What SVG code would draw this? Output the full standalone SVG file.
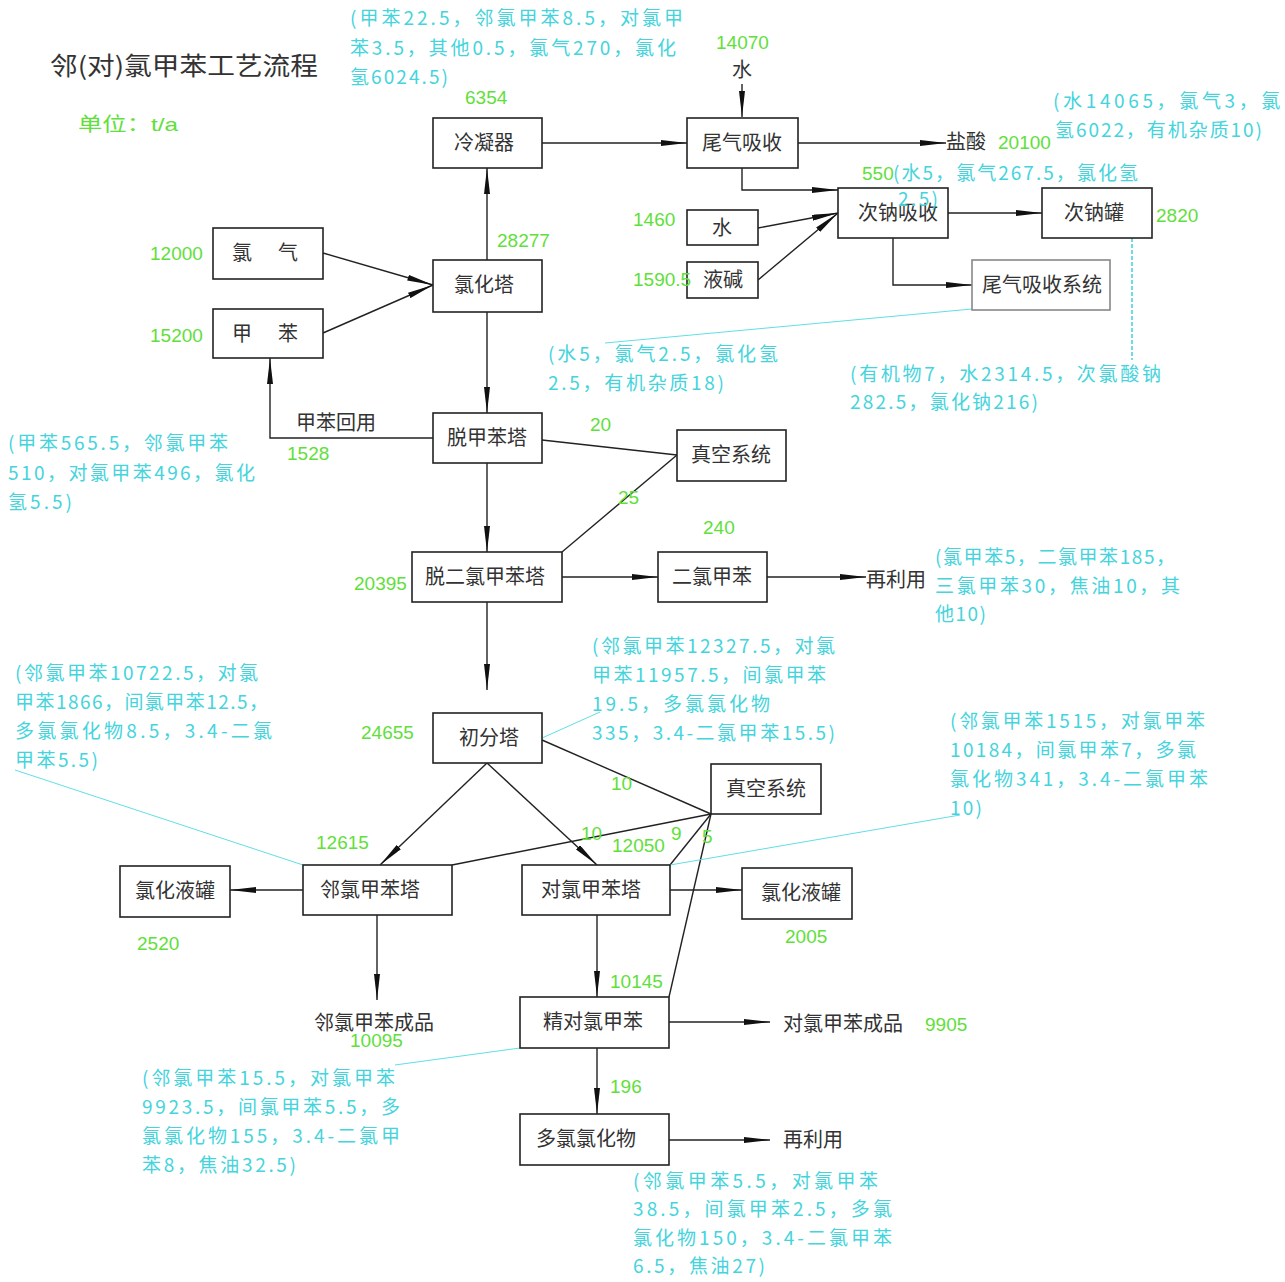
<svg xmlns="http://www.w3.org/2000/svg" width="1285" height="1282" viewBox="0 0 1285 1282">
<style>
.box{fill:#fff;stroke:#222;stroke-width:1.6}
.gbox{fill:#fff;stroke:#888;stroke-width:1.6}
.nt{font-family:"Noto Sans CJK SC","Liberation Sans",sans-serif;font-size:20px;fill:#333;text-anchor:middle}
.lt{font-family:"Noto Sans CJK SC","Liberation Sans",sans-serif;font-size:20px;fill:#333}
.g{font-family:"Liberation Sans","Noto Sans CJK SC",sans-serif;font-size:19px;fill:#5fe03a}
.c{font-family:"Noto Sans CJK SC","Liberation Sans",sans-serif;font-size:19px;fill:#45d4dc}
.ln{fill:none;stroke:#222;stroke-width:1.4}
.ar{fill:none;stroke:#222;stroke-width:1.4;marker-end:url(#ah)}
.cl{fill:none;stroke:#5fdfe6;stroke-width:1}
.cd{fill:none;stroke:#33ccdd;stroke-width:1.4;stroke-dasharray:4 2}
</style>
<defs>
<marker id="ah" viewBox="0 0 26 6" refX="26" refY="3" markerWidth="26" markerHeight="6" markerUnits="userSpaceOnUse" orient="auto">
<path d="M0,0 L26,3 L0,6 z" fill="#111"/>
</marker>
</defs>
<rect width="1285" height="1282" fill="#fff"/>

<text x="50" y="75" font-family="Noto Sans CJK SC,sans-serif" font-size="25" fill="#333" textLength="268" lengthAdjust="spacingAndGlyphs">邻(对)氯甲苯工艺流程</text>
<text class="g" x="78" y="131" font-family="Noto Sans CJK SC,sans-serif" font-size="18" textLength="100" lengthAdjust="spacingAndGlyphs">单位：t/a</text>

<g id="connectors">
<path class="ar" d="M542,143 H687"/>
<path class="ar" d="M742,84 V117"/>
<path class="ar" d="M798,143 H946"/>
<path class="ar" d="M742,168 V190 H838"/>
<path class="ar" d="M758,228 L838,213"/>
<path class="ar" d="M758,280 L838,213"/>
<path class="ar" d="M948,213 H1042"/>
<path class="ar" d="M893,238 V285 H972"/>
<path class="cd" d="M1132,238 V360"/>
<path class="cl" d="M972,309 L605,343"/>
<path class="ar" d="M487,260 V168"/>
<path class="ar" d="M323,253 L433,285"/>
<path class="ar" d="M323,333 L433,285"/>
<path class="ar" d="M487,312 V413"/>
<path class="ar" d="M433,438 H270 V358"/>
<path class="ln" d="M542,440 L677,455"/>
<path class="ln" d="M562,552 L677,455"/>
<path class="ar" d="M487,463 V552"/>
<path class="ar" d="M562,577 H658"/>
<path class="ar" d="M767,577 H866"/>
<path class="ar" d="M487,602 V690"/>
<path class="cl" d="M542,738 L600,712"/>
<path class="ln" d="M542,740 L711,814"/>
<path class="ar" d="M487,763 L380,865"/>
<path class="ar" d="M487,763 L597,865"/>
<path class="ln" d="M452,865 L711,814"/>
<path class="ln" d="M670,865 L711,814"/>
<path class="ln" d="M669,997 L711,814"/>
<path class="cl" d="M303,865 L15,770"/>
<path class="cl" d="M670,865 L960,815"/>
<path class="ar" d="M303,890 H230"/>
<path class="ar" d="M670,890 H742"/>
<path class="ar" d="M377,915 V1000"/>
<path class="ar" d="M597,915 V997"/>
<path class="ar" d="M669,1022 H770"/>
<path class="cl" d="M520,1048 L395,1065"/>
<path class="ar" d="M597,1048 V1114"/>
<path class="ar" d="M669,1140 H770"/>
</g>

<g id="n-lengningqi"><rect class="box" x="433" y="118" width="109" height="50"/><text class="nt" x="484" y="150">冷凝器</text></g>
<g id="n-weiqixishou"><rect class="box" x="687" y="118" width="111" height="50"/><text class="nt" x="742" y="150">尾气吸收</text></g>
<g id="n-lvhuata"><rect class="box" x="433" y="260" width="109" height="52"/><text class="nt" x="484" y="292">氯化塔</text></g>
<g id="n-lvqi"><rect class="box" x="213" y="228" width="110" height="51"/><text class="lt" x="232" y="260" textLength="66" lengthAdjust="spacing">氯 气</text></g>
<g id="n-jiaben"><rect class="box" x="213" y="309" width="110" height="49"/><text class="lt" x="232" y="341" textLength="66" lengthAdjust="spacing">甲 苯</text></g>
<g id="n-shui"><rect class="box" x="687" y="210" width="71" height="35"/><text class="nt" x="722" y="235">水</text></g>
<g id="n-yejian"><rect class="box" x="687" y="262" width="71" height="36"/><text class="nt" x="723" y="287">液碱</text></g>
<g id="n-cinaxishou"><rect class="box" x="838" y="188" width="110" height="50"/><text class="nt" x="898" y="220">次钠吸收</text></g>
<g id="n-cinaguan"><rect class="box" x="1042" y="188" width="110" height="50"/><text class="nt" x="1094" y="220">次钠罐</text></g>
<g id="n-weiqixitong"><rect class="gbox" x="972" y="260" width="138" height="50"/><text class="nt" x="1042" y="292">尾气吸收系统</text></g>
<g id="n-tuojiabenta"><rect class="box" x="433" y="413" width="109" height="50"/><text class="nt" x="487" y="445">脱甲苯塔</text></g>
<g id="n-zhenkong1"><rect class="box" x="677" y="430" width="109" height="51"/><text class="nt" x="731" y="462">真空系统</text></g>
<g id="n-tuoerlv"><rect class="box" x="412" y="552" width="150" height="50"/><text class="nt" x="485" y="584">脱二氯甲苯塔</text></g>
<g id="n-erlvjiaben"><rect class="box" x="658" y="552" width="109" height="50"/><text class="nt" x="712" y="584">二氯甲苯</text></g>
<g id="n-chufenta"><rect class="box" x="433" y="713" width="109" height="50"/><text class="nt" x="489" y="745">初分塔</text></g>
<g id="n-zhenkong2"><rect class="box" x="711" y="764" width="110" height="50"/><text class="nt" x="766" y="796">真空系统</text></g>
<g id="n-lvhuayeguan1"><rect class="box" x="120" y="866" width="110" height="51"/><text class="nt" x="175" y="898">氯化液罐</text></g>
<g id="n-linlvta"><rect class="box" x="303" y="865" width="149" height="50"/><text class="nt" x="370" y="897">邻氯甲苯塔</text></g>
<g id="n-duilvta"><rect class="box" x="522" y="865" width="148" height="50"/><text class="nt" x="591" y="897">对氯甲苯塔</text></g>
<g id="n-lvhuayeguan2"><rect class="box" x="742" y="868" width="110" height="51"/><text class="nt" x="801" y="900">氯化液罐</text></g>
<g id="n-jingdui"><rect class="box" x="520" y="997" width="149" height="51"/><text class="nt" x="593" y="1029">精对氯甲苯</text></g>
<g id="n-duolv"><rect class="box" x="520" y="1114" width="149" height="51"/><text class="nt" x="586" y="1146">多氯氯化物</text></g>

<g id="labels">
<text class="lt" x="732" y="77">水</text>
<text class="lt" x="946" y="149">盐酸</text>
<text class="lt" x="296" y="430">甲苯回用</text>
<text class="lt" x="866" y="587">再利用</text>
<text class="lt" x="314" y="1030">邻氯甲苯成品</text>
<text class="lt" x="783" y="1031">对氯甲苯成品</text>
<text class="lt" x="783" y="1147">再利用</text>

<text class="g" x="465" y="104">6354</text>
<text class="g" x="716" y="49">14070</text>
<text class="g" x="998" y="149">20100</text>
<text class="g" x="497" y="247">28277</text>
<text class="g" x="150" y="260">12000</text>
<text class="g" x="150" y="342">15200</text>
<text class="g" x="633" y="226">1460</text>
<text class="g" x="633" y="286">1590.5</text>
<text class="g" x="862" y="180">550</text>
<text class="g" x="1156" y="222">2820</text>
<text class="g" x="590" y="431">20</text>
<text class="g" x="287" y="460">1528</text>
<text class="g" x="618" y="504">25</text>
<text class="g" x="703" y="534">240</text>
<text class="g" x="354" y="590">20395</text>
<text class="g" x="361" y="739">24655</text>
<text class="g" x="611" y="790">10</text>
<text class="g" x="316" y="849">12615</text>
<text class="g" x="581" y="840">10</text>
<text class="g" x="612" y="852">12050</text>
<text class="g" x="671" y="840">9</text>
<text class="g" x="702" y="843">5</text>
<text class="g" x="137" y="950">2520</text>
<text class="g" x="785" y="943">2005</text>
<text class="g" x="610" y="988">10145</text>
<text class="g" x="350" y="1047">10095</text>
<text class="g" x="925" y="1031">9905</text>
<text class="g" x="610" y="1093">196</text>

<text class="c" x="350" y="25" textLength="333" lengthAdjust="spacing">(甲苯22.5，邻氯甲苯8.5，对氯甲</text>
<text class="c" x="350" y="55" textLength="326" lengthAdjust="spacing">苯3.5，其他0.5，氯气270，氯化</text>
<text class="c" x="350" y="84" textLength="98" lengthAdjust="spacing">氢6024.5)</text>

<text class="c" x="1053" y="108" textLength="250" lengthAdjust="spacing">(水14065，氯气3，氯化</text>
<text class="c" x="1055" y="137" textLength="207" lengthAdjust="spacing">氢6022，有机杂质10)</text>

<text class="c" x="893" y="180" textLength="245" lengthAdjust="spacing">(水5，氯气267.5，氯化氢</text>
<text class="c" x="898" y="206" textLength="40" lengthAdjust="spacing">2.5)</text>

<text class="c" x="548" y="361" textLength="230" lengthAdjust="spacing">(水5，氯气2.5，氯化氢</text>
<text class="c" x="548" y="390" textLength="176" lengthAdjust="spacing">2.5，有机杂质18)</text>

<text class="c" x="850" y="381" textLength="311" lengthAdjust="spacing">(有机物7，水2314.5，次氯酸钠</text>
<text class="c" x="850" y="409" textLength="188" lengthAdjust="spacing">282.5，氯化钠216)</text>

<text class="c" x="8" y="450" textLength="220" lengthAdjust="spacing">(甲苯565.5，邻氯甲苯</text>
<text class="c" x="8" y="480" textLength="247" lengthAdjust="spacing">510，对氯甲苯496，氯化</text>
<text class="c" x="8" y="509" textLength="64" lengthAdjust="spacing">氢5.5)</text>

<text class="c" x="935" y="564" textLength="240" lengthAdjust="spacing">(氯甲苯5，二氯甲苯185，</text>
<text class="c" x="935" y="593" textLength="245" lengthAdjust="spacing">三氯甲苯30，焦油10，其</text>
<text class="c" x="935" y="621" textLength="51" lengthAdjust="spacing">他10)</text>

<text class="c" x="15" y="680" textLength="243" lengthAdjust="spacing">(邻氯甲苯10722.5，对氯</text>
<text class="c" x="15" y="709" textLength="253" lengthAdjust="spacing">甲苯1866，间氯甲苯12.5，</text>
<text class="c" x="15" y="738" textLength="257" lengthAdjust="spacing">多氯氯化物8.5，3.4-二氯</text>
<text class="c" x="15" y="767" textLength="83" lengthAdjust="spacing">甲苯5.5)</text>

<text class="c" x="592" y="653" textLength="243" lengthAdjust="spacing">(邻氯甲苯12327.5，对氯</text>
<text class="c" x="592" y="682" textLength="234" lengthAdjust="spacing">甲苯11957.5，间氯甲苯</text>
<text class="c" x="592" y="711" textLength="178" lengthAdjust="spacing">19.5，多氯氯化物</text>
<text class="c" x="592" y="740" textLength="243" lengthAdjust="spacing">335，3.4-二氯甲苯15.5)</text>

<text class="c" x="950" y="728" textLength="255" lengthAdjust="spacing">(邻氯甲苯1515，对氯甲苯</text>
<text class="c" x="950" y="757" textLength="246" lengthAdjust="spacing">10184，间氯甲苯7，多氯</text>
<text class="c" x="950" y="786" textLength="258" lengthAdjust="spacing">氯化物341，3.4-二氯甲苯</text>
<text class="c" x="950" y="815" textLength="32" lengthAdjust="spacing">10)</text>

<text class="c" x="142" y="1085" textLength="253" lengthAdjust="spacing">(邻氯甲苯15.5，对氯甲苯</text>
<text class="c" x="142" y="1114" textLength="258" lengthAdjust="spacing">9923.5，间氯甲苯5.5，多</text>
<text class="c" x="142" y="1143" textLength="258" lengthAdjust="spacing">氯氯化物155，3.4-二氯甲</text>
<text class="c" x="142" y="1172" textLength="154" lengthAdjust="spacing">苯8，焦油32.5)</text>

<text class="c" x="633" y="1188" textLength="245" lengthAdjust="spacing">(邻氯甲苯5.5，对氯甲苯</text>
<text class="c" x="633" y="1216" textLength="259" lengthAdjust="spacing">38.5，间氯甲苯2.5，多氯</text>
<text class="c" x="633" y="1245" textLength="259" lengthAdjust="spacing">氯化物150，3.4-二氯甲苯</text>
<text class="c" x="633" y="1273" textLength="132" lengthAdjust="spacing">6.5，焦油27)</text>
</g>
</svg>
